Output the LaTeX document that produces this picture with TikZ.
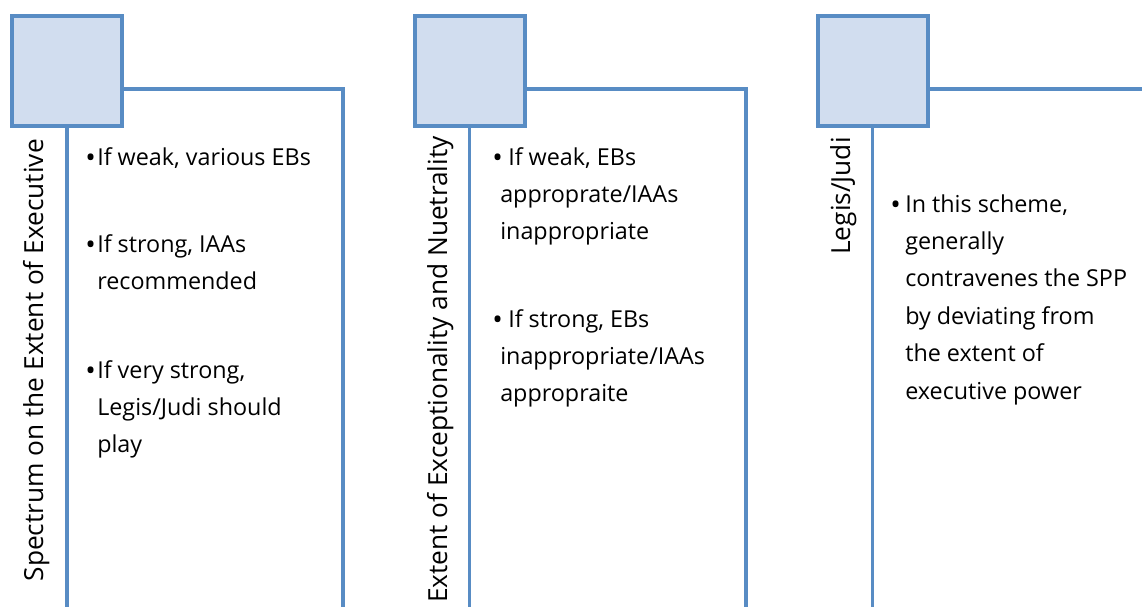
\documentclass[tikz,border=0pt]{standalone}
\usepackage{fontspec}
\setmainfont{Open Sans}
\definecolor{edgeblue}{RGB}{88,140,196}
\definecolor{boxfill}{RGB}{209,221,239}
\newcommand{\mylines}[1]{\begin{tabular}[t]{@{}l@{}}#1\end{tabular}}
\tikzset{
  sq/.style={draw=edgeblue, fill=boxfill, line width=3pt, minimum size=82.5pt, inner sep=0pt},
  conn/.style={draw=edgeblue, line width=2.6pt},
  lbl/.style={rotate=90, anchor=base east, inner sep=0pt, font=\fontsize{19.7}{23}\selectfont},
  body/.style={anchor=base west, inner sep=0pt, font=\fontsize{17.5}{28.1}\selectfont},
  bul/.style={anchor=base west, inner sep=0pt, font=\fontsize{21}{28.1}\selectfont},
}
\begin{document}
\begin{tikzpicture}[x=0.75pt,y=-0.75pt]
\useasboundingbox (0,0) rectangle (1142,607);
% panel 1
\node[sq] (s1) at (67,70.5) {};
\coordinate (c1) at (343,89);
\coordinate (b1) at (343,607);
\coordinate (v1) at (67,607);
\draw[conn] (s1.east |- c1) -- (c1) -- (b1);
\draw[conn] (s1.south) -- (v1);
\node[sq] at (s1) {};
\node[lbl] (l1) at (43,139) {Spectrum on the Extent of Executive};
\node[bul] (p1a) at (85,167) {•};
\node[body] (t1a) at (97,165) {\mylines{If weak, various EBs}};
\node[bul] (p1b) at (85,254) {•};
\node[body] (t1b) at (97,252) {\mylines{If strong, IAAs\\recommended}};
\node[bul] (p1c) at (85,380) {•};
\node[body] (t1c) at (97,378) {\mylines{If very strong,\\Legis/Judi should\\play}};
% panel 2
\node[sq] (s2) at (469.5,70.5) {};
\coordinate (c2) at (746,89);
\coordinate (b2) at (746,607);
\coordinate (v2) at (469.5,607);
\draw[conn] (s2.east |- c2) -- (c2) -- (b2);
\draw[conn] (s2.south) -- (v2);
\node[sq] at (s2) {};
\node[lbl] (l2) at (447,136) {Extent of Exceptionality and Nuetrality};
\node[bul] (p2a) at (492,167) {•};
\node[body] (t2a) at (500,165) {\mylines{\hspace*{6pt}If weak, EBs\\approprate/IAAs\\inappropriate}};
\node[bul] (p2b) at (492,329) {•};
\node[body] (t2b) at (500,327) {\mylines{\hspace*{6pt}If strong, EBs\\inappropriate/IAAs\\appropraite}};
% panel 3
\node[sq] (s3) at (872.5,70.5) {};
\coordinate (c3) at (1142,89);
\coordinate (v3) at (872.5,607);
\draw[conn] (s3.east |- c3) -- (c3);
\draw[conn] (s3.south) -- (v3);
\node[sq] at (s3) {};
\node[lbl] (l3) at (850,137) {Legis/Judi};
\node[bul] (p3a) at (890,214) {•};
\node[body] (t3a) at (905,212) {\mylines{In this scheme,\\generally\\contravenes the SPP\\by deviating from\\the extent of\\executive power}};
\end{tikzpicture}
\end{document}
